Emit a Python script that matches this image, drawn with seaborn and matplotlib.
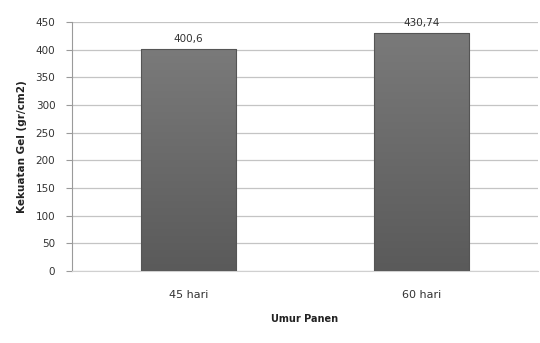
import numpy as np
import pandas as pd
import matplotlib
matplotlib.use("Agg")
import matplotlib.pyplot as plt
import seaborn as sns

categories = ["45 hari", "60 hari"]
values = [400.6, 430.74]
value_labels = ["400,6", "430,74"]
y_ticks = [0, 50, 100, 150, 200, 250, 300, 350, 400, 450]

sns.set_style("white")
plt.rcParams["font.family"] = ["DejaVu Sans"]

df = pd.DataFrame({"Umur Panen": categories, "Kekuatan": values})

fig = plt.figure(figsize=(5.4, 3.43), dpi=100)
ax = fig.add_axes([0.1333, 0.21, 0.863, 0.726])

sns.barplot(data=df, x="Umur Panen", y="Kekuatan", color="#686868",
            width=0.41, edgecolor="#555555", linewidth=0.8, ax=ax, zorder=3)

# vertical shading on each bar
grad = np.linspace(0, 1, 256).reshape(-1, 1)
cmap = matplotlib.colors.LinearSegmentedColormap.from_list(
    "bar", ["#5a5a5a", "#7a7a7a"])
for patch in ax.patches:
    x0, y0 = patch.get_x(), patch.get_y()
    w, h = patch.get_width(), patch.get_height()
    im = ax.imshow(grad, cmap=cmap, aspect="auto", origin="lower",
                   extent=[x0, x0 + w, y0, y0 + h], zorder=3.5)
    im.set_clip_path(patch)
    patch.set_zorder(4)
    patch.set_facecolor("none")

for i, (v, lab) in enumerate(zip(values, value_labels)):
    ax.text(i, v + 9, lab, ha="center", va="bottom", fontsize=7.5,
            color="#333333", zorder=5)

ax.set_xlim(-0.5, 1.5)
ax.set_ylim(0, 450)
ax.set_yticks(y_ticks)
ax.set_yticklabels([str(t) for t in y_ticks])
ax.yaxis.grid(True, color="#c4c4c4", linewidth=0.9, zorder=0)
ax.set_axisbelow(True)

for s in ["top", "right"]:
    ax.spines[s].set_visible(False)
ax.spines["left"].set_color("#9a9a9a")
ax.spines["bottom"].set_color("#d0d0d0")
ax.tick_params(axis="y", left=True, length=4, color="#9a9a9a",
               labelsize=7.5, labelcolor="#333333", pad=8)
ax.tick_params(axis="x", bottom=False, labelsize=8, labelcolor="#333333",
               pad=10)

ax.set_xlabel("Umur Panen", fontsize=7, fontweight="bold", color="#222222",
              labelpad=10)
ax.set_ylabel("Kekuatan Gel (gr/cm2)", fontsize=7.5, fontweight="bold",
              color="#222222", labelpad=6)

fig.savefig("out.png", dpi=100)
